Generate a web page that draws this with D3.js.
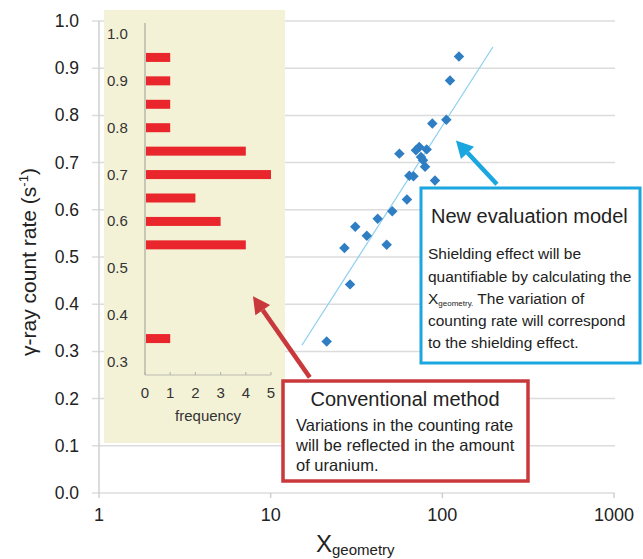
<!DOCTYPE html>
<title>Count rate vs Xgeometry</title>
<body>
<script src="https://cdn.jsdelivr.net/npm/d3@7"></script>
<style>
  html, body { margin: 0; background: #fff; }
  svg { display: block; font-family: "Liberation Sans", Arial, sans-serif; }
</style>
<script>
  // scatter points (Xgeometry, count rate)
  var xgeo = [125, 110.8, 87.4, 105.5, 56.2, 73.4, 81.1, 75.1, 79.3, 64.2, 67.9, 90.6,
              62.2, 51.1, 42.0, 31.1, 36.3, 26.9, 47.4, 29.0, 21.2, 70.2, 77.2];
  var rate = [0.925, 0.874, 0.783, 0.791, 0.719, 0.733, 0.728, 0.712, 0.691, 0.672, 0.671, 0.662,
              0.622, 0.597, 0.581, 0.564, 0.545, 0.519, 0.526, 0.442, 0.321, 0.726, 0.705];
  // fitted line end points
  var trendX = [15.2, 197];
  var trendY = [0.313, 0.945];

  // histogram of the conventional method
  var binRate = [0.95, 0.90, 0.85, 0.80, 0.75, 0.70, 0.65, 0.60, 0.55, 0.35];
  var binFreq = [1, 1, 1, 1, 4, 5, 2, 3, 4, 1];

  var xTicks = [1, 10, 100, 1000];
  var yTicks = [0, 0.1, 0.2, 0.3, 0.4, 0.5, 0.6, 0.7, 0.8, 0.9, 1.0];
  var hyTicks = [0.3, 0.4, 0.5, 0.6, 0.7, 0.8, 0.9, 1.0];
  var hxTicks = [0, 1, 2, 3, 4, 5];

  var W = 643, H = 559;
  var svg = d3.select("body").append("svg").attr("width", W).attr("height", H);

  var x = d3.scaleLog().domain([1, 1000]).range([99, 614]);
  var y = d3.scaleLinear().domain([0, 1]).range([493, 21]);

  /* grid + axes */
  svg.append("g").selectAll("line").data(yTicks).enter().append("line")
    .attr("x1", 92).attr("x2", 615)
    .attr("y1", function(d) { return y(d); }).attr("y2", function(d) { return y(d); })
    .attr("stroke", "#dcdcdc").attr("stroke-width", 1.5);
  svg.append("line").attr("x1", 99).attr("x2", 99).attr("y1", y(1)).attr("y2", y(0))
    .attr("stroke", "#cfcfcf").attr("stroke-width", 1.5);
  svg.append("g").selectAll("line").data(xTicks).enter().append("line")
    .attr("x1", function(d) { return x(d); }).attr("x2", function(d) { return x(d); })
    .attr("y1", y(0)).attr("y2", y(0) + 5)
    .attr("stroke", "#d0d0d0").attr("stroke-width", 1.5);

  svg.append("g").selectAll("text").data(yTicks).enter().append("text")
    .attr("x", 79).attr("y", function(d) { return y(d) + 6; })
    .attr("text-anchor", "end").attr("font-size", 17.5).attr("fill", "#222")
    .text(function(d) { return d3.format(".1f")(d); });
  svg.append("g").selectAll("text").data(xTicks).enter().append("text")
    .attr("x", function(d) { return x(d); }).attr("y", 521)
    .attr("text-anchor", "middle").attr("font-size", 18).attr("fill", "#222")
    .text(function(d) { return d; });

  // axis titles
  var yt = svg.append("text")
    .attr("transform", "translate(36,262) rotate(-90)")
    .attr("text-anchor", "middle").attr("font-size", 21).attr("fill", "#222");
  yt.append("tspan").text("γ-ray count rate (s");
  yt.append("tspan").attr("font-size", 13).attr("dy", -8).text("-1");
  yt.append("tspan").attr("dy", 8).text(")");

  var xt = svg.append("text").attr("x", 316).attr("y", 552).attr("fill", "#222");
  xt.append("tspan").attr("font-size", 24).text("X");
  xt.append("tspan").attr("font-size", 15).attr("dy", 3).text("geometry");

  /* histogram panel */
  svg.append("rect").attr("x", 104).attr("y", 10).attr("width", 181).attr("height", 433)
    .attr("fill", "#f3f2d7");

  var hy = d3.scaleLinear().domain([0.3, 1.0]).range([362, 34]);
  var hx = d3.scaleLinear().domain([0, 5]).range([145, 271]);

  svg.append("line").attr("x1", hx(0)).attr("x2", hx(0)).attr("y1", 23).attr("y2", 375)
    .attr("stroke", "#a9a9a0").attr("stroke-width", 1.2);
  svg.append("line").attr("x1", hx(0)).attr("x2", hx(5)).attr("y1", 375).attr("y2", 375)
    .attr("stroke", "#b9b9b0").attr("stroke-width", 1.2);
  svg.append("g").selectAll("line").data(hxTicks).enter().append("line")
    .attr("x1", function(d) { return hx(d); }).attr("x2", function(d) { return hx(d); })
    .attr("y1", 372).attr("y2", 375)
    .attr("stroke", "#b9b9b0").attr("stroke-width", 1.2);

  svg.append("g").selectAll("rect").data(binRate).enter().append("rect")
    .attr("x", hx(0) + 1)
    .attr("y", function(d) { return hy(d) - 4.5; })
    .attr("width", function(d, i) { return hx(binFreq[i]) - hx(0) - 1; })
    .attr("height", 9)
    .attr("fill", "#e9262b");

  svg.append("g").selectAll("text").data(hyTicks).enter().append("text")
    .attr("x", 107).attr("y", function(d) { return hy(d) + 5; })
    .attr("font-size", 15).attr("fill", "#333")
    .text(function(d) { return d3.format(".1f")(d); });
  svg.append("g").selectAll("text").data(hxTicks).enter().append("text")
    .attr("x", function(d) { return hx(d); }).attr("y", 398)
    .attr("text-anchor", "middle").attr("font-size", 15).attr("fill", "#333")
    .text(function(d) { return d; });
  svg.append("text").attr("x", 208).attr("y", 421).attr("text-anchor", "middle")
    .attr("font-size", 15).attr("fill", "#333").text("frequency");

  /* scatter + fit */
  svg.append("line")
    .attr("x1", x(trendX[0])).attr("y1", y(trendY[0]))
    .attr("x2", x(trendX[1])).attr("y2", y(trendY[1]))
    .attr("stroke", "#8ccfee").attr("stroke-width", 1.2);

  var diamond = d3.symbol().type(d3.symbolDiamond2).size(70);
  svg.append("g").selectAll("path").data(xgeo).enter().append("path")
    .attr("d", diamond)
    .attr("transform", function(d, i) { return "translate(" + x(d) + "," + y(rate[i]) + ")"; })
    .attr("fill", "#2f7dc2");

  /* arrows */
  function arrow(x1, y1, x2, y2, color) {
    var a = Math.atan2(y2 - y1, x2 - x1), len = 17, half = 9;
    var bx = x2 - len * Math.cos(a), by = y2 - len * Math.sin(a);
    svg.append("line").attr("x1", x1).attr("y1", y1).attr("x2", bx).attr("y2", by)
      .attr("stroke", color).attr("stroke-width", 4.5);
    var pts = [[x2, y2],
      [bx + half * Math.sin(a), by - half * Math.cos(a)],
      [bx - half * Math.sin(a), by + half * Math.cos(a)]];
    svg.append("polygon").attr("points", pts.join(" ")).attr("fill", color);
  }
  arrow(x(208), y(0.654), x(120), y(0.747), "#1aa6df");
  arrow(x(16.9), y(0.245), x(7.89), y(0.417), "#c9383b");

  /* callouts */
  svg.append("rect").attr("x", 421).attr("y", 188).attr("width", 219).attr("height", 175)
    .attr("fill", "#fff").attr("stroke", "#1aa6df").attr("stroke-width", 3);
  svg.append("text").attr("x", 431).attr("y", 223).attr("font-size", 20).attr("fill", "#222")
    .text("New evaluation model");
  var blue = svg.append("g").attr("font-size", 15.5).attr("fill", "#222");
  blue.append("text").attr("x", 428).attr("y", 259).text("Shielding effect will be");
  blue.append("text").attr("x", 428).attr("y", 281.5).text("quantifiable by calculating the");
  var l3 = blue.append("text").attr("x", 428).attr("y", 304);
  l3.append("tspan").text("X");
  l3.append("tspan").attr("font-size", 8).attr("dy", 2).text("geometry.");
  l3.append("tspan").attr("dy", -2).text(" The variation of");
  blue.append("text").attr("x", 428).attr("y", 326).text("counting rate will correspond");
  blue.append("text").attr("x", 428).attr("y", 348).text("to the shielding effect.");

  svg.append("rect").attr("x", 283).attr("y", 381).attr("width", 245).attr("height", 100)
    .attr("fill", "#fff").attr("stroke", "#c9383b").attr("stroke-width", 3.5);
  svg.append("text").attr("x", 405).attr("y", 406).attr("text-anchor", "middle")
    .attr("font-size", 20).attr("fill", "#222").text("Conventional method");
  var red = svg.append("g").attr("font-size", 16.5).attr("fill", "#222");
  red.append("text").attr("x", 296).attr("y", 431).text("Variations in the counting rate");
  red.append("text").attr("x", 296).attr("y", 451).text("will be reflected in the amount");
  red.append("text").attr("x", 296).attr("y", 471).text("of uranium.");
</script>
